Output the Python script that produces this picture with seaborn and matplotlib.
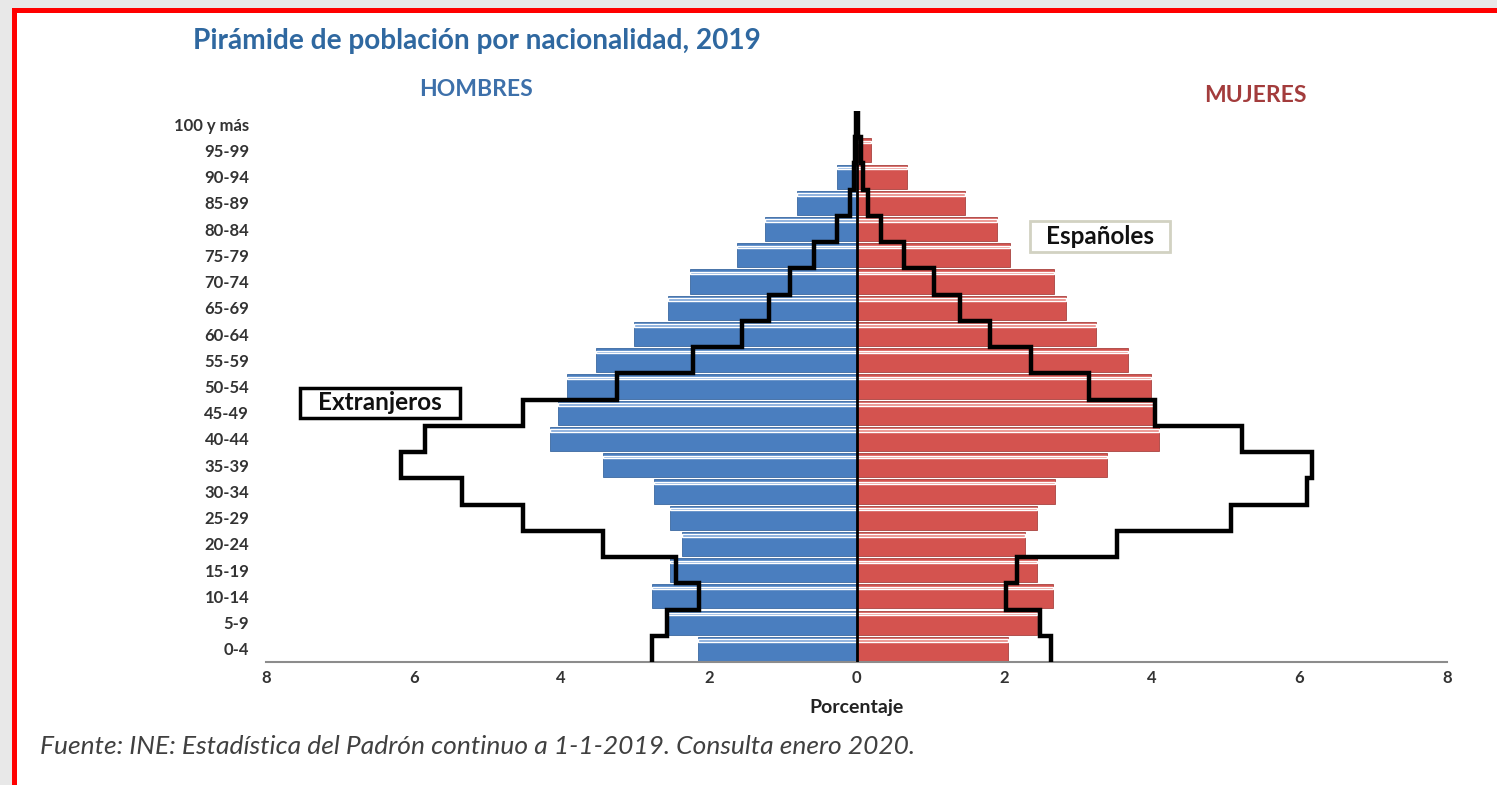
import matplotlib
matplotlib.use("Agg")
import matplotlib.pyplot as plt
from matplotlib.patches import Rectangle
import seaborn as sns
import pandas as pd
import numpy as np

# age groups, bottom to top
edades = ["0-4", "5-9", "10-14", "15-19", "20-24", "25-29", "30-34", "35-39",
          "40-44", "45-49", "50-54", "55-59", "60-64", "65-69", "70-74",
          "75-79", "80-84", "85-89", "90-94", "95-99", "100 y más"]

# Españoles (bars), % of population
esp_hombres = [2.15, 2.55, 2.77, 2.53, 2.37, 2.53, 2.74, 3.43, 4.15, 4.05, 3.92,
               3.53, 3.02, 2.56, 2.26, 1.62, 1.24, 0.80, 0.27, 0.04, 0.01]
esp_mujeres = [2.05, 2.44, 2.66, 2.44, 2.28, 2.44, 2.69, 3.40, 4.10, 4.04, 3.99,
               3.68, 3.24, 2.84, 2.68, 2.08, 1.90, 1.47, 0.68, 0.19, 0.03]

# Extranjeros (step outline)
ext_hombres = [2.77, 2.57, 2.13, 2.45, 3.43, 4.52, 5.35, 6.17, 5.85, 4.52, 3.24,
               2.21, 1.55, 1.19, 0.90, 0.58, 0.27, 0.09, 0.04, 0.02, 0.01]
ext_mujeres = [2.64, 2.48, 2.02, 2.17, 3.53, 5.07, 6.11, 6.17, 5.22, 4.04, 3.15,
               2.36, 1.81, 1.40, 1.05, 0.64, 0.33, 0.15, 0.09, 0.06, 0.02]

x_ticks = [-8, -6, -4, -2, 0, 2, 4, 6, 8]

sns.set_theme(style="white")
plt.rcParams["font.family"] = ["Lato", "DejaVu Sans"]

W, H = 1497, 785
fig = plt.figure(figsize=(W / 100, H / 100), dpi=100)
fig.patch.set_facecolor("#e8e8e8")

# white card with red frame (behind the axes)
fig.patches.append(Rectangle((12 / W, 0), 1, 1 - 8 / H, transform=fig.transFigure,
                             facecolor="white", edgecolor="none", zorder=-3))
fig.patches.append(Rectangle((12 / W, 0), 5 / W, 1 - 8 / H, transform=fig.transFigure,
                             facecolor="#ff0000", edgecolor="none", zorder=-2))
fig.patches.append(Rectangle((12 / W, 1 - 13 / H), 1, 5 / H, transform=fig.transFigure,
                             facecolor="#ff0000", edgecolor="none", zorder=-2))

ax = fig.add_axes([266 / W, 1 - 662 / H, 1181 / W, 551 / H])
ax.set_facecolor("none")
ax.set_zorder(2)

df = pd.DataFrame({"edad": edades, "hombres": esp_hombres, "mujeres": esp_mujeres})
orden = edades[::-1]

sns.barplot(x=-df["hombres"], y=df["edad"], order=orden, orient="h", ax=ax,
            color="#4a7ebf", saturation=1, width=0.92, edgecolor="#3b68a0", linewidth=0.6)
sns.barplot(x=df["mujeres"], y=df["edad"], order=orden, orient="h", ax=ax,
            color="#d4534f", saturation=1, width=0.92, edgecolor="#a84340", linewidth=0.6)

# lighter band near the top of each bar (3D look)
pos = np.array([orden.index(e) for e in edades])
ax.barh(pos - 0.32, -np.array(esp_hombres), height=0.09, color="#7aa3d8", zorder=3)
ax.barh(pos - 0.32, np.array(esp_mujeres), height=0.09, color="#e8847f", zorder=3)

ax.axvline(0, color="black", lw=2, zorder=4)

# step outlines for foreigners
def step_xy(vals, sign):
    xs, ys = [], []
    for p, v in zip(pos, vals):
        xs += [sign * v, sign * v]
        ys += [p + 0.5, p - 0.5]
    return xs, ys

for vals, sign in [(ext_hombres, -1), (ext_mujeres, 1)]:
    xs, ys = step_xy(vals, sign)
    ax.plot(xs, ys, color="black", lw=3.2, solid_joinstyle="miter", zorder=5)

ax.set_xlim(-8, 8)
ax.set_ylim(20.5, -0.5)
ax.set_xticks(x_ticks)
ax.set_xticklabels([str(abs(t)) for t in x_ticks])
ax.tick_params(axis="both", length=0, labelsize=12, colors="#333333", pad=6)
for lab in ax.get_xticklabels() + ax.get_yticklabels():
    lab.set_fontweight("bold")
ax.tick_params(axis="y", pad=12)
ax.set_xlabel("Porcentaje", fontsize=14, fontweight="bold", color="#222222", labelpad=9)
ax.set_ylabel("")
for s in ["top", "right", "left"]:
    ax.spines[s].set_visible(False)
ax.spines["bottom"].set_color("#8c8c8c")
ax.spines["bottom"].set_linewidth(1.5)

# boxes with series names
fig.patches.append(Rectangle((300 / W, 1 - 418 / H), 160 / W, 30 / H, transform=fig.transFigure,
                             facecolor="white", edgecolor="black", lw=2.5, zorder=3))
fig.text(380 / W, 1 - 403 / H, "Extranjeros", fontsize=17.5, fontweight="bold",
         color="#111111", ha="center", va="center", zorder=4)
fig.patches.append(Rectangle((1030 / W, 1 - 252 / H), 140 / W, 31 / H, transform=fig.transFigure,
                             facecolor="white", edgecolor="#d2d2c2", lw=2, zorder=3))
fig.text(1100 / W, 1 - 236 / H, "Españoles", fontsize=17.5, fontweight="bold",
         color="#111111", ha="center", va="center", zorder=4)

fig.text(193 / W, 1 - 41 / H, "Pirámide de población por nacionalidad, 2019",
         fontsize=20.2, fontweight="bold", color="#2f68a0", va="center", ha="left")
fig.text(476 / W, 1 - 90 / H, "HOMBRES", fontsize=16.5, fontweight="bold",
         color="#3d70aa", va="center", ha="center")
fig.text(1255 / W, 1 - 96 / H, "MUJERES", fontsize=16.5, fontweight="bold",
         color="#a33c3c", va="center", ha="center")
fig.text(40 / W, 1 - 746 / H,
         "Fuente: INE: Estadística del Padrón continuo a 1-1-2019. Consulta enero 2020.",
         fontsize=19, style="italic", color="#404040", va="center", ha="left")

fig.savefig("out.png", dpi=100, facecolor=fig.get_facecolor())
